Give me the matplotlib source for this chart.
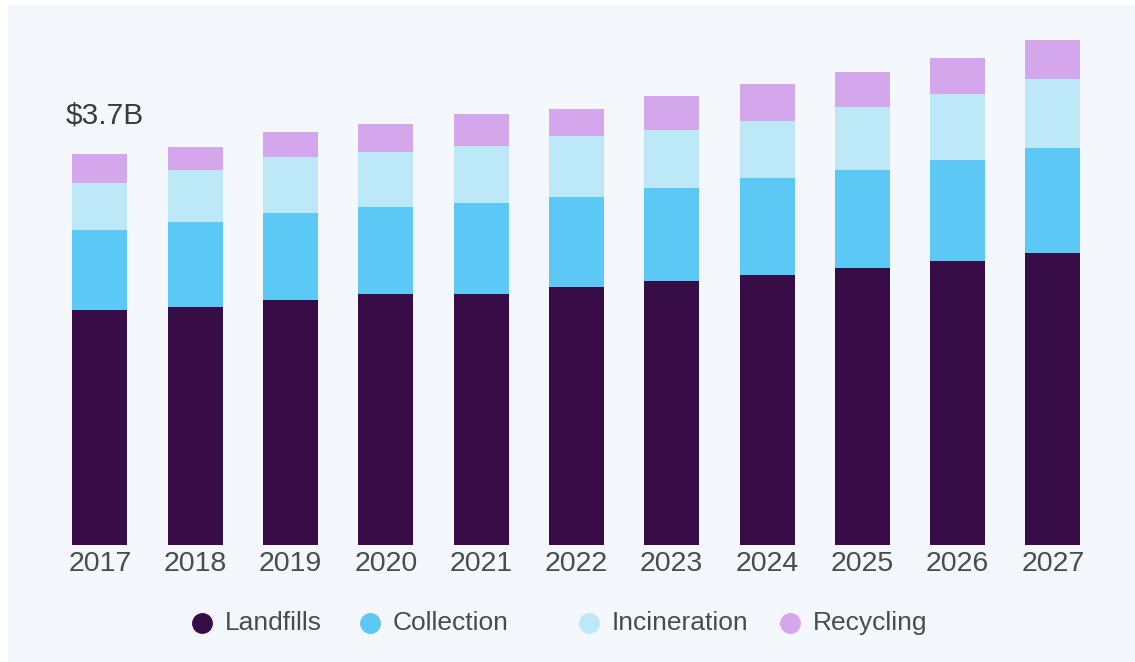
import numpy as np
import matplotlib.pyplot as plt
from matplotlib.lines import Line2D
from matplotlib.patches import Rectangle

# Market size by segment, $B
years = ["2017", "2018", "2019", "2020", "2021", "2022",
         "2023", "2024", "2025", "2026", "2027"]
landfills = [2.23, 2.25, 2.32, 2.38, 2.38, 2.44, 2.50, 2.56, 2.62, 2.69, 2.77]
collection = [0.75, 0.81, 0.82, 0.82, 0.86, 0.86, 0.88, 0.92, 0.93, 0.96, 0.99]
incineration = [0.45, 0.49, 0.53, 0.52, 0.54, 0.57, 0.55, 0.54, 0.60, 0.62, 0.65]
recycling = [0.27, 0.22, 0.24, 0.27, 0.30, 0.26, 0.32, 0.35, 0.33, 0.34, 0.37]

series = [("Landfills", landfills, "#370c47"),
          ("Collection", collection, "#5bc8f5"),
          ("Incineration", incineration, "#bde8f8"),
          ("Recycling", recycling, "#d4a6ec")]

font = ["Liberation Sans", "DejaVu Sans"]
text_color = "#4a4a50"

W, H = 1135, 662
fig = plt.figure(figsize=(W / 100, H / 100), dpi=100, facecolor="white")
# light panel behind the chart
fig.add_artist(Rectangle((8 / W, 0), 1, 657 / H, transform=fig.transFigure,
                         facecolor="#f4f8fc", edgecolor="none", zorder=-10))

ax = fig.add_axes([0.046, 0.1767, 0.9237, 0.7976])
ax.set_facecolor("none")

x = np.arange(len(years))
width = 0.577
bottom = np.zeros(len(years))
for name, vals, color in series:
    ax.bar(x, vals, width, bottom=bottom, color=color, label=name, linewidth=0)
    bottom += np.array(vals)

ax.set_xlim(-0.5, len(years) - 0.5)
ax.set_ylim(0, 5)
ax.set_xticks(x)
ax.set_xticklabels(years, family=font, fontsize=20.5, color=text_color)
ax.tick_params(axis="x", length=0, pad=4)
ax.set_yticks([])
for s in ax.spines.values():
    s.set_visible(False)

# total label over the first bar
ax.annotate(f"${bottom[0]:.1f}B", xy=(x[0] - width / 2, bottom[0]),
            xytext=(-5, 22), textcoords="offset points",
            ha="left", va="baseline", fontsize=21.5,
            family=font, color="#3a3a40")

# legend row, drawn by hand so it sits where the original does
marker_x = [202, 370, 589, 790]
legend_y = 1 - 623 / H
for (name, _, color), mx in zip(series, marker_x):
    fig.add_artist(Line2D([mx / W], [legend_y], marker="o", markersize=14,
                          linestyle="none", markerfacecolor=color,
                          markeredgecolor=color, transform=fig.transFigure))
    fig.text((mx + 23) / W, legend_y, name, ha="left", va="center",
             family=font, fontsize=19, color=text_color)

fig.savefig("out.png", dpi=100)
